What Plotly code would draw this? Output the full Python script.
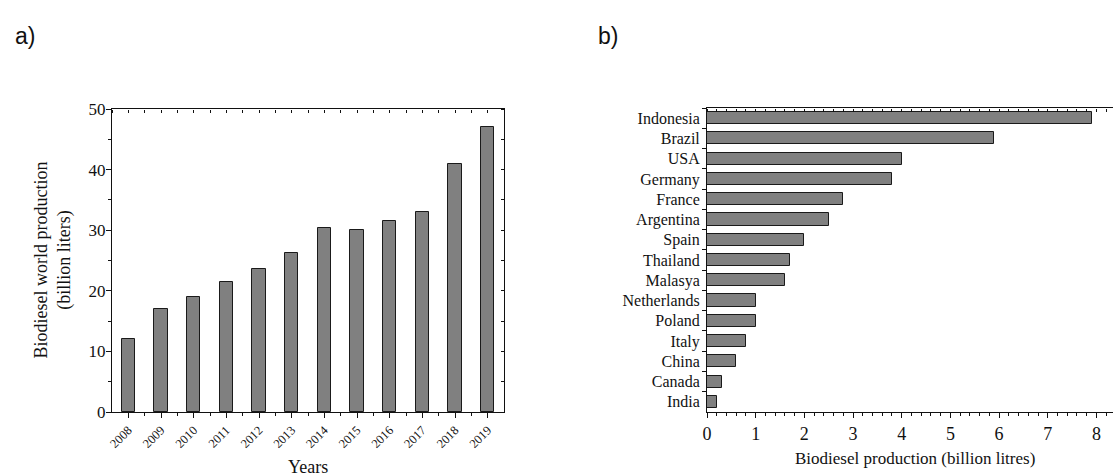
import plotly.graph_objects as go

# Panel a) world biodiesel production by year
years = [2008, 2009, 2010, 2011, 2012, 2013, 2014, 2015, 2016, 2017, 2018, 2019]
world_production = [12.0, 17.0, 19.0, 21.4, 23.6, 26.3, 30.4, 30.1, 31.6, 33.0, 41.0, 47.0]

# Panel b) biodiesel production by country
countries = ["Indonesia", "Brazil", "USA", "Germany", "France", "Argentina", "Spain",
             "Thailand", "Malasya", "Netherlands", "Poland", "Italy", "China", "Canada", "India"]
country_production = [7.9, 5.9, 4.0, 3.8, 2.8, 2.5, 2.0, 1.7, 1.6, 1.0, 1.0, 0.8, 0.6, 0.3, 0.2]

SERIF = "Liberation Serif, Times New Roman, serif"
SANS = "Liberation Sans, Arial, sans-serif"
BAR_FILL = "#808080"
BAR_EDGE = "#1a1a1a"
INK = "#111111"

W, H = 1113, 476


def px_x(p):
    return p / W


def px_y(p):
    return 1 - p / H


fig = go.Figure()

fig.add_trace(go.Bar(
    x=years, y=world_production, width=0.4,
    marker=dict(color=BAR_FILL, line=dict(color=BAR_EDGE, width=1)),
    xaxis="x", yaxis="y", showlegend=False,
))

fig.add_trace(go.Bar(
    x=country_production, y=countries, orientation="h", width=0.6,
    marker=dict(color=BAR_FILL, line=dict(color=BAR_EDGE, width=1)),
    xaxis="x2", yaxis="y2", showlegend=False,
))

# empty traces that anchor the tick-only overlay axes
for xa, ya in (("x3", "y3"), ("x4", "y2")):
    fig.add_trace(go.Scatter(x=[None], y=[None], xaxis=xa, yaxis=ya,
                             showlegend=False, hoverinfo="skip"))

a_dom_x = [px_x(112), px_x(504)]
a_dom_y = [px_y(412), px_y(109)]
b_dom_x = [px_x(707), 1.0]
b_dom_y = [px_y(412), px_y(108)]

year_range = [2007.5, 2019.5]
prod_range = [0, 50]
b_x_range = [0, 8.34]
b_y_range = [14.5, -0.5]

axis_line = dict(showline=True, linecolor=INK, linewidth=1, showgrid=False,
                 zeroline=False, automargin=False, tickcolor=INK, tickwidth=1)
# overlay axes: placed on the opposite edge with "outside" ticks so they point inward
tick_only = dict(showline=False, showgrid=False, zeroline=False,
                 showticklabels=False, automargin=False, tickcolor=INK, tickwidth=1,
                 ticks="outside")

fig.update_layout(
    width=W, height=H,
    margin=dict(l=0, r=0, t=0, b=0),
    paper_bgcolor="white", plot_bgcolor="white",
    font=dict(family=SERIF, color=INK),
    bargap=0,
    xaxis=dict(
        **axis_line, domain=a_dom_x, anchor="y", range=year_range,
        tickmode="array", tickvals=years, ticktext=[str(y) for y in years],
        ticks="outside", ticklen=5, tickangle=-45,
        tickfont=dict(family=SERIF, size=12.5, color=INK),
        minor=dict(tickvals=[y + 0.5 for y in years[:-1]], ticks="outside",
                   ticklen=3, tickcolor=INK),
        mirror=True,
    ),
    yaxis=dict(
        **axis_line, domain=a_dom_y, anchor="x", range=prod_range,
        tickmode="linear", tick0=0, dtick=10, ticks="outside", ticklen=5,
        ticklabelstandoff=-3,
        tickfont=dict(family=SERIF, size=17, color=INK),
        minor=dict(dtick=5, ticks="outside", ticklen=3, tickcolor=INK),
        mirror=True,
    ),
    # inward ticks along the top and right edges of panel a)
    xaxis3=dict(**tick_only, domain=a_dom_x, anchor="free", position=a_dom_y[1],
                overlaying="x", side="bottom", range=year_range,
                tickmode="linear", tick0=2007.5, dtick=0.5, ticklen=3),
    yaxis3=dict(**tick_only, domain=a_dom_y, anchor="free", position=a_dom_x[1],
                overlaying="y", side="left", range=prod_range,
                tickmode="linear", tick0=0, dtick=5, ticklen=3),
    xaxis2=dict(
        **axis_line, domain=b_dom_x, anchor="y2", range=b_x_range,
        tickmode="linear", tick0=0, dtick=1, ticks="outside", ticklen=5,
        tickfont=dict(family=SERIF, size=18, color=INK),
        minor=dict(dtick=0.2, ticks="outside", ticklen=3, tickcolor=INK),
        mirror=True,
    ),
    yaxis2=dict(
        **axis_line, domain=b_dom_y, anchor="x2", range=b_y_range,
        type="category", categoryorder="array", categoryarray=countries,
        tickson="boundaries", ticks="outside", ticklen=4, ticklabelstandoff=3,
        tickfont=dict(family=SERIF, size=16, color=INK),
    ),
    # inward ticks on the top edge of panel b)
    xaxis4=dict(**tick_only, domain=b_dom_x, anchor="free", position=b_dom_y[1],
                overlaying="x2", side="bottom", range=b_x_range,
                tickmode="linear", tick0=0, dtick=0.2, ticklen=3),
)

annotations = [
    dict(text="a)", x=px_x(13), y=px_y(36), xanchor="left", yanchor="middle",
         font=dict(family=SANS, size=23, color=INK)),
    dict(text="b)", x=px_x(596), y=px_y(36), xanchor="left", yanchor="middle",
         font=dict(family=SANS, size=23, color=INK)),
    dict(text="Biodiesel world production<br>(billion liters)", x=px_x(52),
         y=(a_dom_y[0] + a_dom_y[1]) / 2, textangle=-90,
         xanchor="center", yanchor="middle",
         font=dict(family=SERIF, size=18, color=INK)),
    dict(text="Years", x=(a_dom_x[0] + a_dom_x[1]) / 2, y=px_y(467),
         xanchor="center", yanchor="middle",
         font=dict(family=SERIF, size=18, color=INK)),
    dict(text="Biodiesel production (billion litres)", x=px_x(915), y=px_y(458),
         xanchor="center", yanchor="middle",
         font=dict(family=SERIF, size=17, color=INK)),
]
for a in annotations:
    a.update(xref="paper", yref="paper", showarrow=False)
fig.update_layout(annotations=annotations)

fig.write_html("out.html")
